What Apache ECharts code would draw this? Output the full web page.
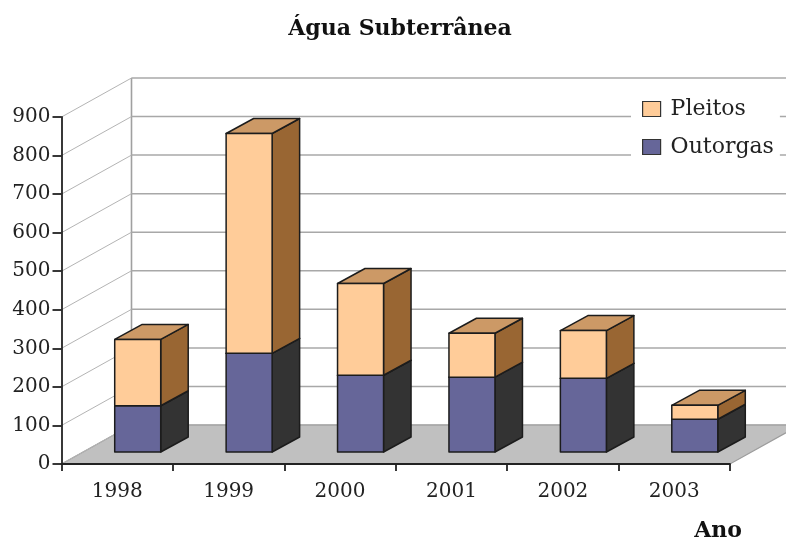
<!DOCTYPE html>
<html>
<head>
<meta charset="utf-8">
<script src="https://cdn.jsdelivr.net/npm/echarts@6/dist/echarts.min.js"></script>
<style>
  html, body { margin: 0; padding: 0; background: #fff; }
  #chart { width: 786px; height: 538px; }
</style>
</head>
<body>
<div id="chart"></div>
<script>
var anos = ['1998', '1999', '2000', '2001', '2002', '2003'];
var outorgas = [120, 256, 199, 194, 191, 85];
var pleitos = [172, 570, 238, 114, 124, 36];
var yTicks = [0, 100, 200, 300, 400, 500, 600, 700, 800, 900];

// efeito 3D: profundidade da parede e das barras, em pixels
var wallDx = 70, wallDy = -39;
var barDx = 20.5, barDy = -12, barW = 46, sideDx = 27.5, sideDy = -15;
var serif = '"DejaVu Serif", "Liberation Serif", serif';

function poly(points, fill) {
  return {
    type: 'polygon',
    shape: { points: points },
    style: { fill: fill, stroke: '#1c1c1c', lineWidth: 1.5, lineJoin: 'round' }
  };
}

function renderBar(colors) {
  return function (params, api) {
    var low = api.coord([api.value(0), api.value(1)]);
    var high = api.coord([api.value(0), api.value(1) + api.value(2)]);
    var x0 = low[0] - barW / 2 + barDx;
    var x1 = x0 + barW;
    var yb = low[1] + barDy;
    var yt = high[1] + barDy;
    return {
      type: 'group',
      children: [
        poly([[x1, yb], [x1 + sideDx, yb + sideDy], [x1 + sideDx, yt + sideDy], [x1, yt]], colors.side),
        poly([[x0, yt], [x1, yt], [x1 + sideDx, yt + sideDy], [x0 + sideDx, yt + sideDy]], colors.top),
        poly([[x0, yb], [x1, yb], [x1, yt], [x0, yt]], colors.front)
      ]
    };
  };
}

function renderFloor(params, api) {
  var cs = params.coordSys;
  var p = api.coord([0, 0]);
  var left = cs.x, right = cs.x + cs.width, y = p[1];
  return {
    type: 'group',
    children: [
      {
        type: 'polygon',
        shape: { points: [[left, y], [left + wallDx, y + wallDy], [right + wallDx, y + wallDy], [right, y]] },
        style: { fill: '#c0c0c0', stroke: '#9c9c9c', lineWidth: 1.2 }
      },
      {
        type: 'line',
        shape: { x1: left + wallDx, y1: y + wallDy, x2: left + wallDx, y2: cs.y + wallDy },
        style: { stroke: '#a0a0a0', lineWidth: 1.6 }
      }
    ]
  };
}

function renderGrid(params, api) {
  var cs = params.coordSys;
  var y = api.coord([0, api.value(1)])[1];
  var left = cs.x, right = cs.x + cs.width;
  return {
    type: 'group',
    children: [
      {
        type: 'line',
        shape: { x1: left, y1: y, x2: left + wallDx, y2: y + wallDy },
        style: { stroke: '#b4b4b4', lineWidth: 1 }
      },
      {
        type: 'line',
        shape: { x1: left + wallDx, y1: y + wallDy, x2: right + wallDx, y2: y + wallDy },
        style: { stroke: '#a8a8a8', lineWidth: 1.5 }
      }
    ]
  };
}

var myChart = echarts.init(document.getElementById('chart'));
var option = {
  animation: false,
  backgroundColor: '#fff',
  title: {
    text: 'Água Subterrânea',
    left: 395,
    top: 13,
    textAlign: 'center',
    textStyle: { fontFamily: serif, fontWeight: 'bold', fontSize: 22, color: '#111' }
  },
  legend: {
    data: ['Pleitos', 'Outorgas'],
    orient: 'vertical',
    icon: 'rect',
    left: 631,
    top: 92,
    z: 10,
    padding: [6, 6, 8, 11],
    itemWidth: 18,
    itemHeight: 15,
    itemGap: 16,
    backgroundColor: '#fff',
    itemStyle: { borderColor: '#333', borderWidth: 1.2 },
    textStyle: { fontFamily: serif, fontSize: 22, color: '#222', padding: [0, 0, 0, 5] }
  },
  grid: { left: 61.5, right: 56, top: 117, bottom: 74, outerBoundsMode: 'none' },
  xAxis: {
    type: 'category',
    data: anos,
    z: 5,
    name: 'Ano',
    nameLocation: 'end',
    nameGap: 12,
    nameMoveOverlap: false,
    nameTextStyle: {
      fontFamily: serif, fontWeight: 'bold', fontSize: 22, color: '#111',
      align: 'right', verticalAlign: 'top', padding: [56, 0, 0, 0]
    },
    axisLine: { lineStyle: { color: '#222', width: 1.8 } },
    axisTick: { show: true, length: 7, lineStyle: { color: '#222', width: 1.8 } },
    axisLabel: { fontFamily: serif, fontSize: 20, color: '#222', margin: 18 },
    splitLine: { show: false }
  },
  yAxis: {
    type: 'value',
    min: 0,
    max: 900,
    interval: 100,
    z: 5,
    axisLine: { show: true, lineStyle: { color: '#222', width: 1.8 } },
    axisTick: { show: true, length: 9, lineStyle: { color: '#222', width: 1.8 } },
    axisLabel: { fontFamily: serif, fontSize: 20, color: '#222', margin: 11 },
    splitLine: { show: false }
  },
  series: [
    {
      type: 'custom',
      silent: true,
      z: 1,
      clip: false,
      renderItem: renderFloor,
      encode: { x: 0, y: 1 },
      data: [[0, 0]]
    },
    {
      type: 'custom',
      silent: true,
      z: 1,
      clip: false,
      renderItem: renderGrid,
      encode: { x: 0, y: 1 },
      data: yTicks.map(function (v) { return [0, v]; })
    },
    {
      name: 'Outorgas',
      type: 'custom',
      z: 3,
      clip: false,
      itemStyle: { color: '#666699' },
      renderItem: renderBar({ front: '#666699', side: '#333333', top: '#4d4d73' }),
      encode: { x: 0, y: 2 },
      data: outorgas.map(function (v, i) { return [i, 0, v]; })
    },
    {
      name: 'Pleitos',
      type: 'custom',
      z: 3,
      clip: false,
      itemStyle: { color: '#ffcc99' },
      renderItem: renderBar({ front: '#ffcc99', side: '#996633', top: '#cc9966' }),
      encode: { x: 0, y: 2 },
      data: pleitos.map(function (v, i) { return [i, outorgas[i], v]; })
    }
  ]
};
myChart.setOption(option);
</script>
</body>
</html>
